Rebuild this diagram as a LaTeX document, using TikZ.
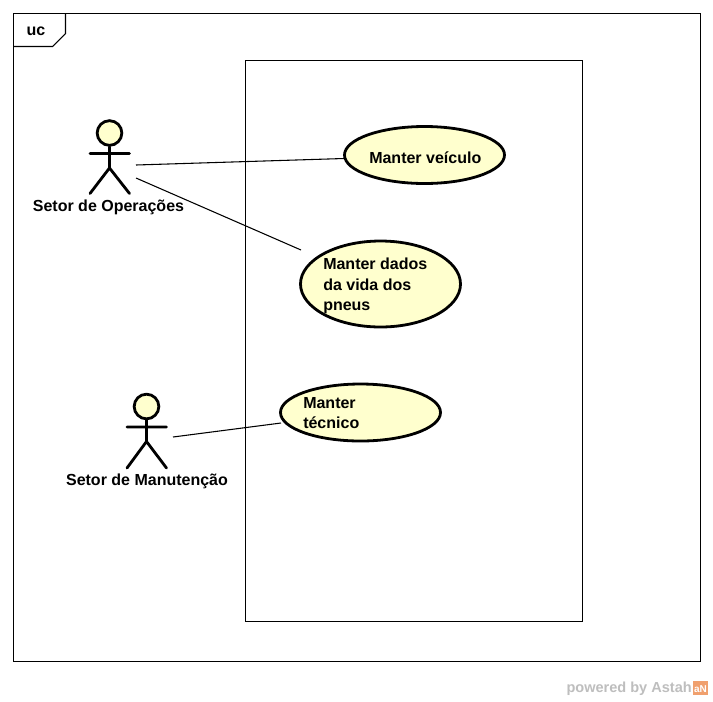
\documentclass[tikz,border=0pt]{standalone}
\usepackage{fontspec}
\setmainfont{Liberation Sans}
\usetikzlibrary{shapes.geometric}
\definecolor{ucfill}{RGB}{255,255,206}
\definecolor{wm}{RGB}{190,190,190}
\definecolor{astah}{RGB}{240,160,110}
\tikzset{
  box/.style={draw=black,line width=0.8pt,fill=white},
  usecase/.style={draw=black,line width=2.1pt,fill=ucfill,ellipse,inner sep=0pt,minimum width=120pt,minimum height=#1},
  usecase/.default=42.75pt,
  label/.style={font=\fontsize{12}{15.2}\selectfont\bfseries,inner sep=0pt,align=left},
  limb/.style={line width=2.1pt,line cap=round},
  assoc/.style={line width=0.8pt},
  head/.style={draw=black,line width=2.1pt,fill=ucfill,circle,inner sep=0pt,minimum size=18.5pt},
}
\begin{document}
\begin{tikzpicture}[x=0.75pt,y=-0.75pt]
\useasboundingbox (0,0) rectangle (713,701);
\fill[white] (0,0) rectangle (713,701);
\draw[box] (13.5,13.5) rectangle (700.5,661.5);
\draw[line width=0.8pt] (13.5,46.5) -- (52.5,46.5) -- (65.5,33.5) -- (65.5,13.5);
\node[label,anchor=center] (uc) at (36,31) {uc};
\draw[box] (245.5,60.5) rectangle (582.5,621.5);

% use cases
\node[usecase] (vei) at (424.5,155) {};
\node[label,anchor=west] (veit) at (369,157.5) {Manter veículo};
\node[usecase=64.5pt] (dad) at (380.5,284) {};
\node[label,anchor=north west] (dadt) at (323,258) {Manter dados\\da vida dos\\pneus};
\node[usecase] (tec) at (360.5,412.5) {};
\node[label,anchor=north west] (tect) at (303,397) {Manter\\técnico};

% actor: Setor de Operacoes
\node[head] (h1) at (109.5,133) {};
\coordinate (w1) at (109.5,168);
\coordinate (a1l) at (90,153.5);
\coordinate (a1r) at (129.5,153.5);
\coordinate (f1l) at (90,193.5);
\coordinate (f1r) at (129.5,193.5);
\draw[limb] (h1) -- (w1) (a1l) -- (a1r) (f1l) -- (w1) -- (f1r);
\node[label] (n1) at (108.5,207) {Setor de Operações};

% actor: Setor de Manutencao
\node[head] (h2) at (146.5,406.5) {};
\coordinate (w2) at (146.5,441.5);
\coordinate (a2l) at (127,427);
\coordinate (a2r) at (166.5,427);
\coordinate (f2l) at (127,468);
\coordinate (f2r) at (166.5,468);
\draw[limb] (h2) -- (w2) (a2l) -- (a2r) (f2l) -- (w2) -- (f2r);
\node[label] (n2) at (147,481) {Setor de Manutenção};

% associations
\coordinate (p1) at (136,165);
\coordinate (p2) at (136,178);
\coordinate (p3) at (173,437);
\coordinate (e1) at (344,158.5);
\coordinate (e2) at (301,250);
\coordinate (e3) at (281,423);
\draw[assoc] (p1) -- (e1);
\draw[assoc] (p2) -- (e2);
\draw[assoc] (p3) -- (e3);

% watermark
\node[font=\fontsize{10.9}{12}\selectfont\bfseries,text=wm,inner sep=0pt,anchor=east] (wmk) at (692,689) {powered by Astah};
\fill[astah] (693,681) rectangle (708,695);
\node[font=\fontsize{7.5}{8}\selectfont\bfseries,text=white,inner sep=0pt] (wma) at (700.5,689.5) {aN};
\end{tikzpicture}
\end{document}
